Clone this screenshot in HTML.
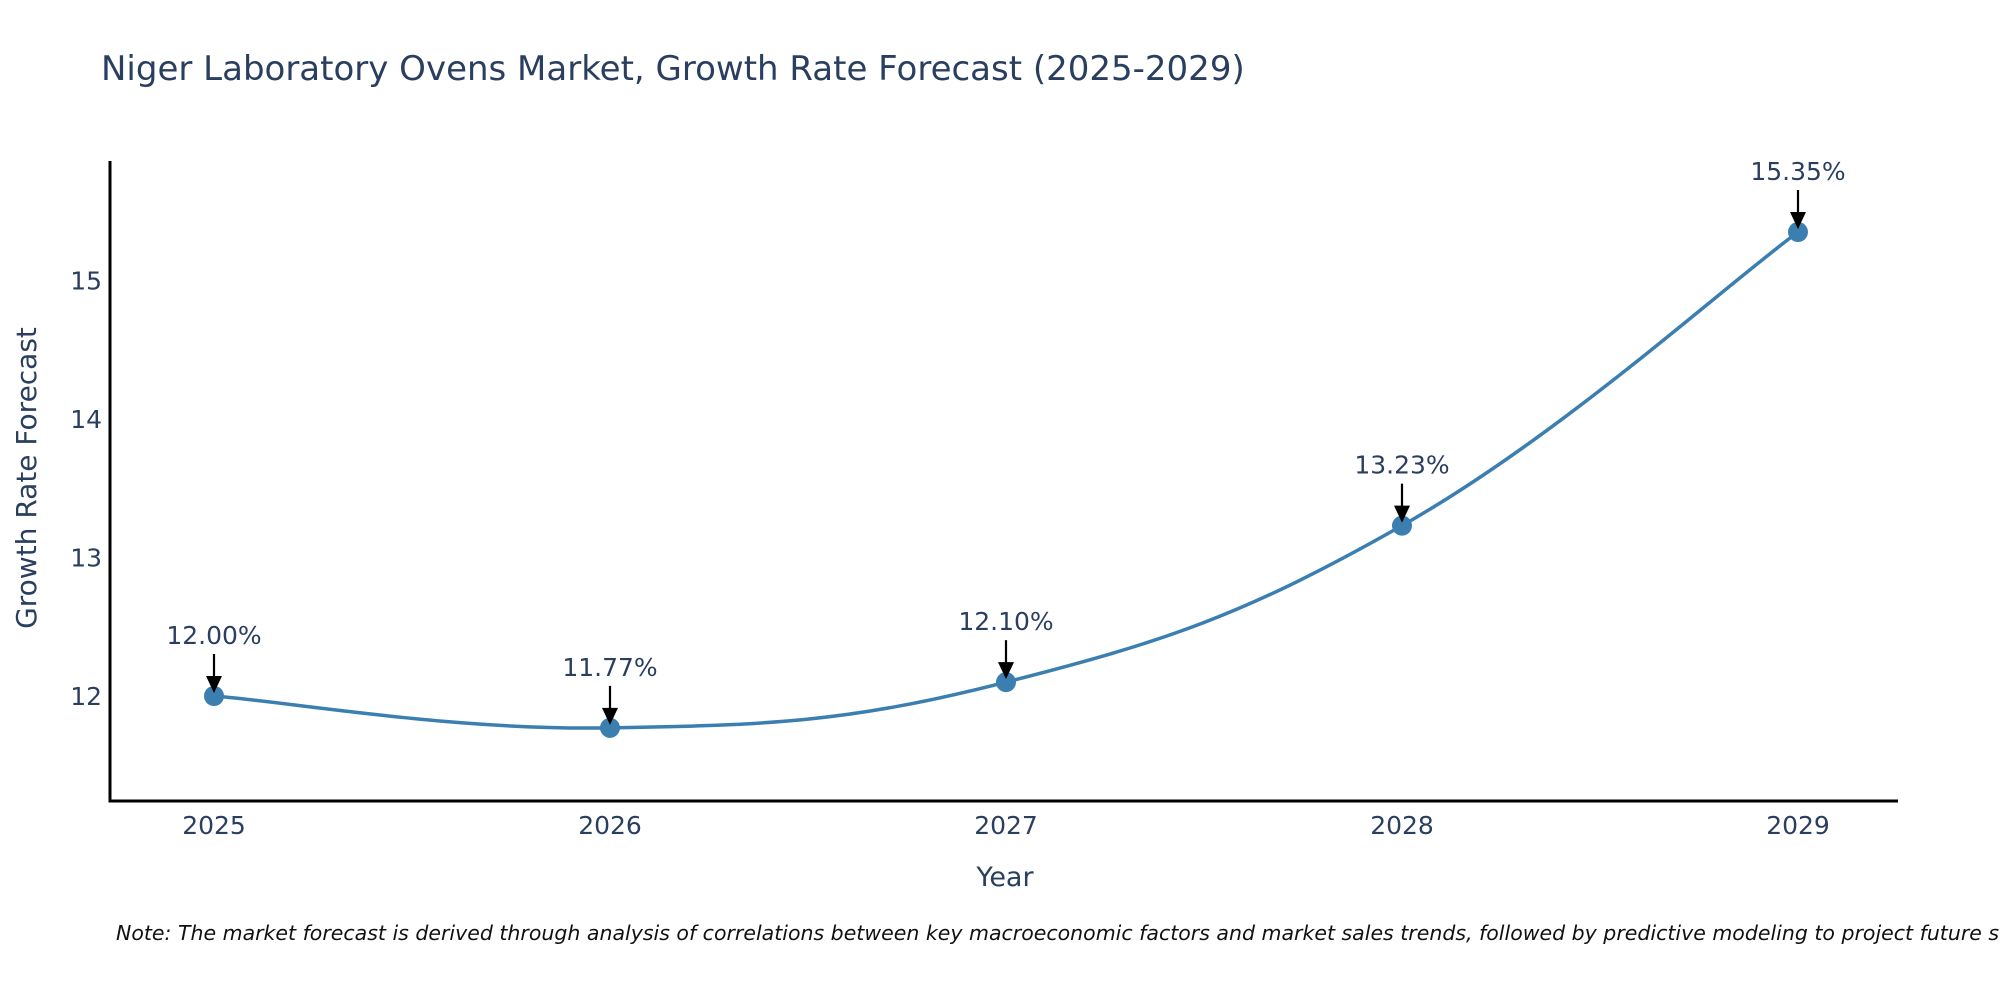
<!DOCTYPE html>
<html><head><meta charset="utf-8"><style>
body{margin:0;background:#fff;}
svg{display:block;font-family:"DejaVu Sans","Liberation Sans",sans-serif;}
</style></head><body>
<svg id="chart" width="2000" height="1000" viewBox="0 0 2000 1000">
<text x="101" y="80" font-size="34" fill="#2a3f5f">Niger Laboratory Ovens Market, Growth Rate Forecast (2025-2029)</text>
<g id="plot"></g>
<text transform="translate(36,478) rotate(-90)" text-anchor="middle" font-size="28" fill="#2a3f5f">Growth Rate Forecast</text>
<text x="1005" y="886" text-anchor="middle" font-size="27" fill="#2a3f5f">Year</text>
<text x="116" y="940" font-size="20.5" font-style="italic" fill="#111">Note: The market forecast is derived through analysis of correlations between key macroeconomic factors and market sales trends, followed by predictive modeling to project future sales</text>
</svg>
<script>
const years = [2025, 2026, 2027, 2028, 2029];
const rates = [12.00, 11.77, 12.10, 13.23, 15.35];
const yTicks = [12, 13, 14, 15];
const labels = ["12.00%", "11.77%", "12.10%", "13.23%", "15.35%"];

const NS = "http://www.w3.org/2000/svg";
const g = document.getElementById("plot");
const X0 = 110, X1 = 1898, Y0 = 161, Y1 = 801;
const xs = v => 214 + (v - 2025) * 396;
const ys = v => 696 - (v - 12) * 138.5;
function mk(tag, attrs, txt){const e=document.createElementNS(NS,tag);for(const k in attrs)e.setAttribute(k,attrs[k]);if(txt!==undefined)e.textContent=txt;g.appendChild(e);return e;}

let ax = mk("path",{d:`M${X0},${Y0} L${X0},${Y1} L${X1},${Y1}`,fill:"none",stroke:"#000","stroke-width":3});



yTicks.forEach(t=>{
  const e = mk("text",{x:X0-8,y:ys(t)+9,"text-anchor":"end","font-size":25,fill:"#2a3f5f"},String(t));
  
  
});
years.forEach(yv=>{
  const e = mk("text",{x:xs(yv),y:834,"text-anchor":"middle","font-size":25,fill:"#2a3f5f"},String(yv));
  
  
});

const P = years.map((y,i)=>[xs(y), ys(rates[i])]);
let d = `M${P[0][0]},${P[0][1]}`;
const s = 0.2;
for(let i=0;i<P.length-1;i++){
  const p0=P[Math.max(0,i-1)], p1=P[i], p2=P[i+1], p3=P[Math.min(P.length-1,i+2)];
  const c1=[p1[0]+(p2[0]-p0[0])*s, p1[1]+(p2[1]-p0[1])*s];
  const c2=[p2[0]-(p3[0]-p1[0])*s, p2[1]-(p3[1]-p1[1])*s];
  d += ` C${c1[0]},${c1[1]} ${c2[0]},${c2[1]} ${p2[0]},${p2[1]}`;
}
const line = mk("path",{d:d,fill:"none",stroke:"#3b7fb1","stroke-width":3.5});



P.forEach((p,i)=>{
  const c = mk("circle",{cx:p[0],cy:p[1],r:10,fill:"#3b7fb1"});
  
  
  const a = mk("line",{x1:p[0],y1:p[1]-42,x2:p[0],y2:p[1]-16,stroke:"#000","stroke-width":2.2});
  
  
  const h = mk("path",{d:`M${p[0]-8},${p[1]-20} L${p[0]+8},${p[1]-20} L${p[0]},${p[1]-3} Z`,fill:"#000"});
  
  
  const t = mk("text",{x:p[0],y:p[1]-52,"text-anchor":"middle","font-size":25,fill:"#2a3f5f"},labels[i]);
  
  
});
</script>
</body></html>
